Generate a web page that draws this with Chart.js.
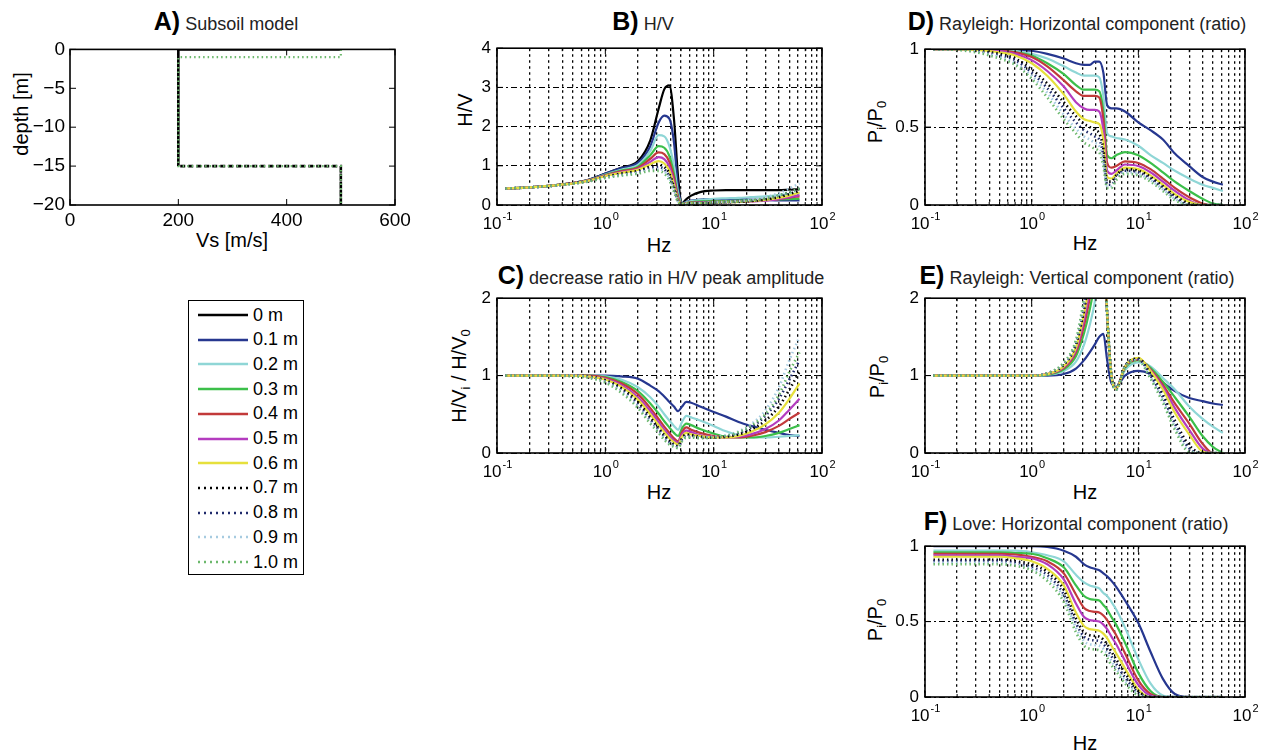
<!DOCTYPE html>
<html>
<head>
<meta charset="utf-8">
<script src="https://cdn.jsdelivr.net/npm/chart.js@4.4.1/dist/chart.umd.min.js"></script>
<style>
  body { margin: 0; width: 1271px; height: 754px; position: relative; overflow: hidden; background: #fff;
         font-family: 'Liberation Sans', Arial, sans-serif; color: #000; }
  canvas { position: absolute; }
  .ttl { position: absolute; white-space: nowrap; transform: translate(-50%, -50%); font-size: 18px; color: #222; }
  .ttl b { font-size: 25px; color: #000; }
  .lbl { position: absolute; white-space: nowrap; font-size: 20px; transform: translate(-50%, -50%); }
  .lbl.rot { transform: translate(-50%, -50%) rotate(-90deg); }
  .lbl sub { font-size: 13px; vertical-align: -4px; }
  #legend { position: absolute; left: 188px; top: 300px; width: 116px; height: 275px; border: 1.5px solid #000; box-sizing: border-box; }
  .lrow { position: absolute; left: 9px; height: 20px; display: flex; align-items: center; font-size: 18px; transform: translateY(-50%); }
  .lrow svg { margin-right: 5px; }
</style>
</head>
<body>
<div id="legend"></div>

<div class="ttl" style="left:226px;top:21px"><b>A)</b> Subsoil model</div>
<div class="ttl" style="left:643px;top:21px"><b>B)</b> H/V</div>
<div class="ttl" style="left:661px;top:275px"><b>C)</b> decrease ratio in H/V peak amplitude</div>
<div class="ttl" style="left:1077px;top:21px"><b>D)</b> Rayleigh: Horizontal component (ratio)</div>
<div class="ttl" style="left:1077px;top:275px"><b>E)</b> Rayleigh: Vertical component (ratio)</div>
<div class="ttl" style="left:1076px;top:521px"><b>F)</b> Love: Horizontal component (ratio)</div>

<div class="lbl" style="left:232px;top:240px">Vs [m/s]</div>
<div class="lbl rot" style="left:21px;top:114px">depth [m]</div>
<div class="lbl" style="left:659px;top:245px">Hz</div>
<div class="lbl rot" style="left:465px;top:110px">H/V</div>
<div class="lbl" style="left:659px;top:492px">Hz</div>
<div class="lbl rot" style="left:460px;top:376px">H/V<sub>i</sub> / H/V<sub>0</sub></div>
<div class="lbl" style="left:1085px;top:243px">Hz</div>
<div class="lbl rot" style="left:876px;top:122px">P<sub>i</sub>/P<sub>0</sub></div>
<div class="lbl" style="left:1085px;top:492px">Hz</div>
<div class="lbl rot" style="left:878px;top:377px">P<sub>i</sub>/P<sub>0</sub></div>
<div class="lbl" style="left:1085px;top:743px">Hz</div>
<div class="lbl rot" style="left:876px;top:620px">P<sub>i</sub>/P<sub>0</sub></div>

<script>
// series labels and styles (legend order)
const depthLabels = ['0 m', '0.1 m', '0.2 m', '0.3 m', '0.4 m', '0.5 m', '0.6 m', '0.7 m', '0.8 m', '0.9 m', '1.0 m']
const lineColors = ['#000000', '#26378f', '#8fd6d6', '#3cbf4a', '#c23a3a', '#b43cbf', '#e6e03c', '#000000', '#1f2a6b', '#a6cbe0', '#6cb86c']
const dotted = [false, false, false, false, false, false, false, true, true, true, true]

// x ticks for the frequency panels
const freqTickVals = [0.1, 1, 10, 100]
const freqTickExp = ['-1', '0', '1', '2']

const freq = [0.12, 0.2, 0.3, 0.5, 0.7, 1, 1.4, 2, 2.6, 3.1, 3.5, 3.9, 4.3, 4.7, 5.1, 5.6, 6.2, 7.5, 10, 13, 17, 22, 30, 40, 50, 62]

// A) subsoil model
const vsTicks = [0, 200, 400, 600]
const depthTicks = [0, -5, -10, -15, -20]
const vsModel0 = [500, 200, 200, 500, 500]
const depthModel0 = [0, 0, -15, -15, -20]
const vsModel1 = [500, 500, 200, 200, 500, 500]
const depthModel1 = [0, -1, -1, -15, -15, -20]

// B) H/V, one row per depth 0 m .. 1.0 m
const hvCurves = [
  [0.42,0.45,0.49,0.56,0.64,0.80,0.95,1.12,1.65,2.45,2.95,3.05,2.2,0.7,0.05,0.15,0.24,0.33,0.37,0.38,0.38,0.38,0.38,0.38,0.39,0.40],
  [0.42,0.45,0.49,0.56,0.64,0.80,0.94,1.08,1.50,2.1,2.28,2.2,1.6,0.45,0.04,0.08,0.11,0.14,0.15,0.15,0.15,0.14,0.13,0.12,0.12,0.12],
  [0.42,0.45,0.49,0.56,0.63,0.78,0.90,1.02,1.38,1.78,1.75,1.5,1.0,0.3,0.03,0.07,0.1,0.13,0.16,0.17,0.18,0.2,0.22,0.25,0.28,0.3],
  [0.42,0.45,0.49,0.56,0.63,0.77,0.88,0.98,1.27,1.5,1.46,1.25,0.8,0.22,0.03,0.05,0.07,0.09,0.1,0.1,0.11,0.12,0.13,0.14,0.15,0.16],
  [0.42,0.45,0.49,0.56,0.63,0.76,0.86,0.95,1.18,1.34,1.3,1.1,0.7,0.18,0.02,0.05,0.06,0.07,0.08,0.08,0.09,0.1,0.12,0.15,0.19,0.22],
  [0.42,0.45,0.49,0.56,0.62,0.75,0.84,0.92,1.1,1.22,1.17,0.98,0.6,0.15,0.02,0.04,0.05,0.06,0.07,0.07,0.08,0.09,0.11,0.15,0.2,0.25],
  [0.42,0.45,0.49,0.55,0.62,0.74,0.82,0.9,1.04,1.12,1.06,0.88,0.52,0.12,0.02,0.04,0.05,0.05,0.06,0.07,0.08,0.1,0.13,0.18,0.24,0.32],
  [0.42,0.45,0.48,0.55,0.61,0.72,0.8,0.87,0.98,1.03,0.97,0.8,0.46,0.1,0.02,0.03,0.04,0.05,0.06,0.07,0.08,0.1,0.14,0.2,0.28,0.36],
  [0.42,0.45,0.48,0.55,0.61,0.71,0.78,0.84,0.94,0.97,0.91,0.74,0.42,0.09,0.02,0.03,0.04,0.05,0.06,0.07,0.09,0.11,0.16,0.24,0.33,0.42],
  [0.42,0.45,0.48,0.54,0.6,0.7,0.76,0.82,0.9,0.92,0.86,0.69,0.38,0.08,0.02,0.03,0.04,0.05,0.07,0.08,0.1,0.13,0.2,0.3,0.42,0.55],
  [0.42,0.45,0.48,0.54,0.6,0.69,0.75,0.8,0.87,0.87,0.8,0.63,0.34,0.07,0.02,0.03,0.04,0.05,0.07,0.08,0.09,0.12,0.17,0.25,0.33,0.42]
]

// C) H/V_i / H/V_0, rows 0.1 m .. 1.0 m
const hvRatio = [
  [1,1,1,1,1,1,0.99,0.96,0.87,0.8,0.73,0.66,0.6,0.54,0.6,0.66,0.65,0.6,0.53,0.47,0.4,0.35,0.3,0.26,0.23,0.22],
  [1,1,1,1,1,0.99,0.95,0.85,0.72,0.6,0.5,0.42,0.35,0.3,0.4,0.48,0.46,0.42,0.35,0.28,0.23,0.2,0.2,0.21,0.22,0.23],
  [1,1,1,1,1,0.98,0.92,0.8,0.64,0.51,0.41,0.33,0.26,0.22,0.32,0.38,0.36,0.31,0.25,0.21,0.2,0.2,0.22,0.26,0.31,0.36],
  [1,1,1,1,1,0.97,0.9,0.76,0.58,0.44,0.34,0.26,0.19,0.15,0.27,0.33,0.3,0.26,0.22,0.2,0.2,0.22,0.27,0.35,0.44,0.52],
  [1,1,1,1,0.99,0.96,0.88,0.72,0.54,0.4,0.3,0.22,0.16,0.13,0.24,0.29,0.27,0.23,0.21,0.2,0.21,0.24,0.31,0.42,0.56,0.7],
  [1,1,1,1,0.99,0.95,0.86,0.69,0.5,0.36,0.27,0.19,0.14,0.11,0.21,0.26,0.24,0.22,0.2,0.2,0.22,0.27,0.37,0.52,0.7,0.9],
  [1,1,1,1,0.99,0.94,0.84,0.66,0.46,0.32,0.23,0.16,0.11,0.09,0.19,0.24,0.23,0.21,0.2,0.21,0.24,0.3,0.42,0.6,0.82,1.05],
  [1,1,1,1,0.98,0.93,0.82,0.63,0.43,0.3,0.21,0.14,0.1,0.08,0.17,0.22,0.22,0.2,0.2,0.22,0.26,0.33,0.48,0.7,0.95,1.2],
  [1,1,1,1,0.98,0.92,0.8,0.6,0.4,0.28,0.19,0.12,0.09,0.07,0.16,0.21,0.21,0.2,0.21,0.23,0.28,0.37,0.55,0.85,1.2,1.5],
  [1,1,1,0.99,0.97,0.91,0.78,0.58,0.38,0.26,0.17,0.11,0.08,0.06,0.15,0.2,0.2,0.19,0.2,0.22,0.27,0.35,0.5,0.75,1.05,1.3]
]

// D) Rayleigh horizontal P_i/P_0, rows 0.1 m .. 1.0 m
const rayHoriz = [
  [1,1,1,1,0.995,0.99,0.97,0.94,0.91,0.9,0.9,0.92,0.92,0.85,0.64,0.62,0.62,0.6,0.53,0.48,0.42,0.33,0.25,0.18,0.15,0.13],
  [1,1,1,0.995,0.99,0.97,0.94,0.89,0.85,0.83,0.83,0.83,0.82,0.7,0.46,0.44,0.43,0.42,0.38,0.32,0.27,0.22,0.17,0.13,0.11,0.09],
  [1,1,1,0.99,0.98,0.96,0.91,0.84,0.77,0.74,0.74,0.74,0.73,0.6,0.32,0.3,0.32,0.34,0.32,0.27,0.21,0.15,0.09,0.04,0.01,0],
  [1,1,1,0.99,0.98,0.95,0.89,0.8,0.73,0.7,0.7,0.7,0.69,0.55,0.27,0.24,0.25,0.28,0.27,0.23,0.17,0.11,0.05,0.01,0,0],
  [1,1,1,0.99,0.97,0.93,0.86,0.76,0.66,0.62,0.61,0.61,0.6,0.48,0.22,0.2,0.22,0.26,0.25,0.21,0.15,0.09,0.03,0,0,0],
  [1,1,0.995,0.98,0.96,0.91,0.83,0.71,0.6,0.55,0.54,0.53,0.52,0.42,0.18,0.17,0.2,0.24,0.23,0.19,0.13,0.07,0.02,0,0,0],
  [1,1,0.99,0.97,0.94,0.87,0.78,0.66,0.57,0.52,0.5,0.48,0.46,0.36,0.15,0.15,0.19,0.23,0.22,0.18,0.12,0.06,0.01,0,0,0],
  [1,1,0.99,0.96,0.93,0.85,0.75,0.62,0.53,0.48,0.46,0.44,0.42,0.32,0.13,0.13,0.18,0.22,0.21,0.17,0.11,0.05,0,0,0,0],
  [1,1,0.985,0.95,0.91,0.83,0.72,0.58,0.49,0.44,0.42,0.4,0.38,0.28,0.12,0.12,0.17,0.21,0.2,0.16,0.1,0.04,0,0,0,0],
  [1,0.995,0.98,0.94,0.9,0.81,0.69,0.55,0.46,0.4,0.38,0.36,0.34,0.25,0.11,0.11,0.16,0.2,0.19,0.15,0.09,0.03,0,0,0,0]
]

// E) Rayleigh vertical P_i/P_0, rows 0.1 m .. 1.0 m
const rayVert = [
  [1,1,1,1,1,1,1,1.02,1.09,1.2,1.3,1.4,1.5,1.54,1.2,0.9,0.86,1.0,1.06,1.02,0.91,0.8,0.71,0.67,0.64,0.62],
  [1,1,1,1,1,1,1.01,1.06,1.18,1.4,1.65,1.95,2.4,2.6,1.8,1.0,0.86,1.07,1.17,1.12,0.97,0.82,0.6,0.44,0.34,0.26],
  [1,1,1,1,1,1,1.01,1.08,1.25,1.55,1.85,2.2,2.6,2.8,1.8,1.0,0.85,1.1,1.2,1.1,0.92,0.72,0.47,0.22,0.08,0],
  [1,1,1,1,1,1,1.02,1.1,1.3,1.65,2.0,2.4,2.8,2.9,1.8,1.0,0.84,1.11,1.21,1.08,0.88,0.64,0.38,0.12,0,0],
  [1,1,1,1,1,1,1.02,1.11,1.33,1.72,2.1,2.5,2.9,2.9,1.8,1.0,0.84,1.12,1.22,1.07,0.85,0.58,0.3,0.06,0,0],
  [1,1,1,1,1,1,1.02,1.12,1.36,1.8,2.2,2.6,3,2.9,1.8,1.0,0.83,1.12,1.23,1.06,0.82,0.52,0.24,0.02,0,0],
  [1,1,1,1,1,1,1.03,1.14,1.4,1.85,2.3,2.7,3,2.9,1.8,1.0,0.83,1.12,1.22,1.02,0.75,0.42,0.1,0,0,0],
  [1,1,1,1,1,1,1.03,1.15,1.42,1.9,2.35,2.8,3,2.9,1.8,1.0,0.82,1.12,1.21,1.0,0.72,0.38,0.06,0,0,0],
  [1,1,1,1,1,1,1.03,1.16,1.44,1.95,2.4,2.8,3,2.9,1.8,1.0,0.82,1.11,1.2,0.98,0.68,0.34,0.03,0,0,0],
  [1,1,1,1,1,1,1.03,1.17,1.46,2.0,2.45,2.9,3,2.9,1.8,1.0,0.82,1.11,1.19,0.96,0.65,0.3,0.01,0,0,0]
]

// F) Love horizontal P_i/P_0, rows 0.1 m .. 1.0 m
const loveHoriz = [
  [1,1,1,1,1,1,0.995,0.97,0.93,0.88,0.86,0.85,0.84,0.82,0.8,0.77,0.73,0.64,0.49,0.3,0.12,0.02,0,0,0,0],
  [0.97,0.97,0.97,0.97,0.97,0.96,0.94,0.9,0.81,0.76,0.74,0.73,0.72,0.69,0.67,0.63,0.58,0.46,0.25,0.09,0.01,0,0,0,0,0],
  [0.96,0.96,0.96,0.96,0.955,0.95,0.92,0.86,0.74,0.67,0.65,0.645,0.64,0.61,0.58,0.53,0.48,0.36,0.16,0.04,0,0,0,0,0,0],
  [0.95,0.95,0.95,0.95,0.945,0.93,0.9,0.82,0.68,0.59,0.57,0.565,0.56,0.54,0.51,0.46,0.41,0.29,0.11,0.02,0,0,0,0,0,0],
  [0.94,0.94,0.94,0.94,0.93,0.92,0.88,0.78,0.62,0.53,0.51,0.505,0.5,0.48,0.45,0.4,0.35,0.24,0.08,0.01,0,0,0,0,0,0],
  [0.93,0.93,0.93,0.93,0.92,0.9,0.85,0.74,0.56,0.47,0.45,0.445,0.44,0.42,0.39,0.34,0.29,0.19,0.05,0,0,0,0,0,0,0],
  [0.91,0.91,0.91,0.91,0.9,0.88,0.83,0.71,0.52,0.43,0.41,0.405,0.4,0.38,0.35,0.3,0.25,0.16,0.04,0,0,0,0,0,0,0],
  [0.9,0.9,0.9,0.9,0.89,0.86,0.81,0.68,0.49,0.4,0.38,0.375,0.37,0.35,0.32,0.27,0.22,0.13,0.03,0,0,0,0,0,0,0],
  [0.89,0.89,0.89,0.89,0.88,0.85,0.79,0.66,0.46,0.37,0.35,0.345,0.34,0.32,0.29,0.24,0.19,0.11,0.02,0,0,0,0,0,0,0],
  [0.88,0.88,0.88,0.88,0.87,0.84,0.77,0.63,0.43,0.34,0.32,0.315,0.31,0.29,0.26,0.21,0.17,0.09,0.01,0,0,0,0,0,0,0]
]

// margins around each plot box inside its canvas
const ML = 60, MB = 34, PT = 15, PR = 30
const FONT = "'Liberation Sans', Arial, sans-serif"

// grid positions on a log axis: 1..9 in each decade
const gridFreq = []
for (let e = -1; e < 2; e++) for (let m = 1; m < 10; m++) gridFreq.push(+(m * Math.pow(10, e)).toPrecision(3))
gridFreq.push(100)

// box around the plot and matlab-like inward ticks
const boxPlugin = {
  id: 'box',
  afterDraw(chart) {
    const { ctx, chartArea: a, scales } = chart
    ctx.save()
    ctx.strokeStyle = '#000'
    ctx.setLineDash([])
    ctx.lineWidth = 1
    ctx.beginPath()
    scales.x.ticks.forEach(t => {
      const p = scales.x.getPixelForValue(t.value)
      const lg = Math.log10(t.value)
      const len = scales.x.type !== 'logarithmic' || Math.abs(lg - Math.round(lg)) < 1e-6 ? 6 : 3
      ctx.moveTo(p, a.bottom); ctx.lineTo(p, a.bottom - len)
      ctx.moveTo(p, a.top); ctx.lineTo(p, a.top + len)
    })
    scales.y.ticks.forEach(t => {
      const p = scales.y.getPixelForValue(t.value)
      ctx.moveTo(a.left, p); ctx.lineTo(a.left + 6, p)
      ctx.moveTo(a.right, p); ctx.lineTo(a.right - 6, p)
    })
    ctx.stroke()
    ctx.lineWidth = 1.6
    ctx.strokeRect(a.left, a.top, a.right - a.left, a.bottom - a.top)
    ctx.restore()
  }
}

// 10^n labels under log axes
const logLabelPlugin = {
  id: 'logLabels',
  afterDraw(chart) {
    const sx = chart.scales.x
    if (sx.type !== 'logarithmic') return
    const { ctx, chartArea: a } = chart
    ctx.save()
    ctx.fillStyle = '#000'
    ctx.textBaseline = 'alphabetic'
    freqTickVals.forEach((v, i) => {
      const p = sx.getPixelForValue(v)
      ctx.font = '17px ' + FONT
      const w1 = ctx.measureText('10').width
      ctx.font = '11px ' + FONT
      const w2 = ctx.measureText(freqTickExp[i]).width
      const x0 = p - (w1 + w2) / 2
      ctx.font = '17px ' + FONT
      ctx.fillText('10', x0, a.bottom + 24)
      ctx.font = '11px ' + FONT
      ctx.fillText(freqTickExp[i], x0 + w1 + 1, a.bottom + 15)
    })
    ctx.restore()
  }
}

function makePanel(rect, datasets, xScale, yScale) {
  const cv = document.createElement('canvas')
  const W = rect[2] - rect[0] + ML + PR
  const H = rect[3] - rect[1] + PT + MB
  cv.width = W
  cv.height = H
  cv.style.left = (rect[0] - ML) + 'px'
  cv.style.top = (rect[1] - PT) + 'px'
  cv.style.width = W + 'px'
  cv.style.height = H + 'px'
  document.body.appendChild(cv)

  xScale.afterFit = s => { s.height = MB }
  yScale.afterFit = s => { s.width = ML }

  new Chart(cv, {
    type: 'line',
    data: { datasets },
    options: {
      responsive: false,
      animation: false,
      layout: { padding: { top: PT, right: PR, left: 0, bottom: 0 } },
      plugins: { legend: { display: false }, tooltip: { enabled: false } },
      elements: { point: { radius: 0 } },
      scales: { x: xScale, y: yScale }
    },
    plugins: [boxPlugin, logLabelPlugin]
  })
}

function freqAxis() {
  return {
    type: 'logarithmic', min: 0.1, max: 100,
    afterBuildTicks: s => { s.ticks = gridFreq.map(v => ({ value: v })) },
    grid: { color: '#000', lineWidth: 1.3, drawTicks: false },
    border: { display: false, dash: [2.5, 3.5] },
    ticks: { display: false, autoSkip: false, maxRotation: 0 }
  }
}

function valueAxis(max, step) {
  return {
    type: 'linear', min: 0, max: max,
    grid: { color: '#000', lineWidth: 1, drawTicks: false },
    border: { display: false, dash: [6, 3, 2, 3] },
    ticks: { stepSize: step, color: '#000', padding: 6, font: { size: 17, family: FONT },
             callback: v => String(+v.toFixed(2)) }
  }
}

function freqSets(rows, first) {
  return rows.map((vals, r) => {
    const i = r + first
    return {
      label: depthLabels[i],
      data: vals.map((v, k) => ({ x: freq[k], y: v })),
      borderColor: lineColors[i],
      borderWidth: dotted[i] ? 2.6 : 2.2,
      borderDash: dotted[i] ? [1.5, 3] : [],
      cubicInterpolationMode: 'monotone',
      fill: false,
      order: -i
    }
  })
}

// A) subsoil model
makePanel([70, 48, 395, 205], [
  {
    label: depthLabels[0],
    data: vsModel0.map((v, k) => ({ x: v, y: depthModel0[k] })),
    borderColor: '#000', borderWidth: 2.6, fill: false, order: 1,
    segment: { borderDash: c => c.p0DataIndex === 0 ? [] : [5, 3] }
  },
  {
    label: depthLabels[10],
    data: vsModel1.map((v, k) => ({ x: v, y: depthModel1[k] })),
    borderColor: lineColors[10], borderWidth: 2.2, borderDash: [1.5, 3], fill: false, order: 0
  }
], {
  type: 'linear', min: 0, max: 600,
  afterBuildTicks: s => { s.ticks = vsTicks.map(v => ({ value: v })) },
  grid: { display: false, drawTicks: false },
  border: { display: false },
  ticks: { color: '#000', padding: 4, maxRotation: 0, font: { size: 19, family: FONT } }
}, {
  type: 'linear', min: -20, max: 0,
  afterBuildTicks: s => { s.ticks = depthTicks.map(v => ({ value: v })) },
  grid: { display: false, drawTicks: false },
  border: { display: false },
  ticks: { color: '#000', padding: 5, font: { size: 19, family: FONT },
           callback: v => v < 0 ? '\u2212' + Math.abs(v) : String(v) }
})

makePanel([497, 47, 822, 205], freqSets(hvCurves, 0), freqAxis(), valueAxis(4, 1))
makePanel([497, 297, 822, 453], freqSets(hvRatio, 1), freqAxis(), valueAxis(2, 1))
makePanel([925, 48, 1245, 205], freqSets(rayHoriz, 1), freqAxis(), valueAxis(1, 0.5))
makePanel([925, 297, 1245, 453], freqSets(rayVert, 1), freqAxis(), valueAxis(2, 1))
makePanel([925, 545, 1245, 697], freqSets(loveHoriz, 1), freqAxis(), valueAxis(1, 0.5))

// legend box
const lg = document.getElementById('legend')
depthLabels.forEach((t, i) => {
  const row = document.createElement('div')
  row.className = 'lrow'
  row.style.top = (14 + i * 24.7) + 'px'
  const dash = dotted[i] ? ' stroke-dasharray="2,4"' : ''
  row.innerHTML = '<svg width="50" height="8"><line x1="0" y1="4" x2="50" y2="4" stroke="' + lineColors[i] +
    '" stroke-width="2.5"' + dash + '/></svg><span>' + t + '</span>'
  lg.appendChild(row)
})
</script>
</body>
</html>
